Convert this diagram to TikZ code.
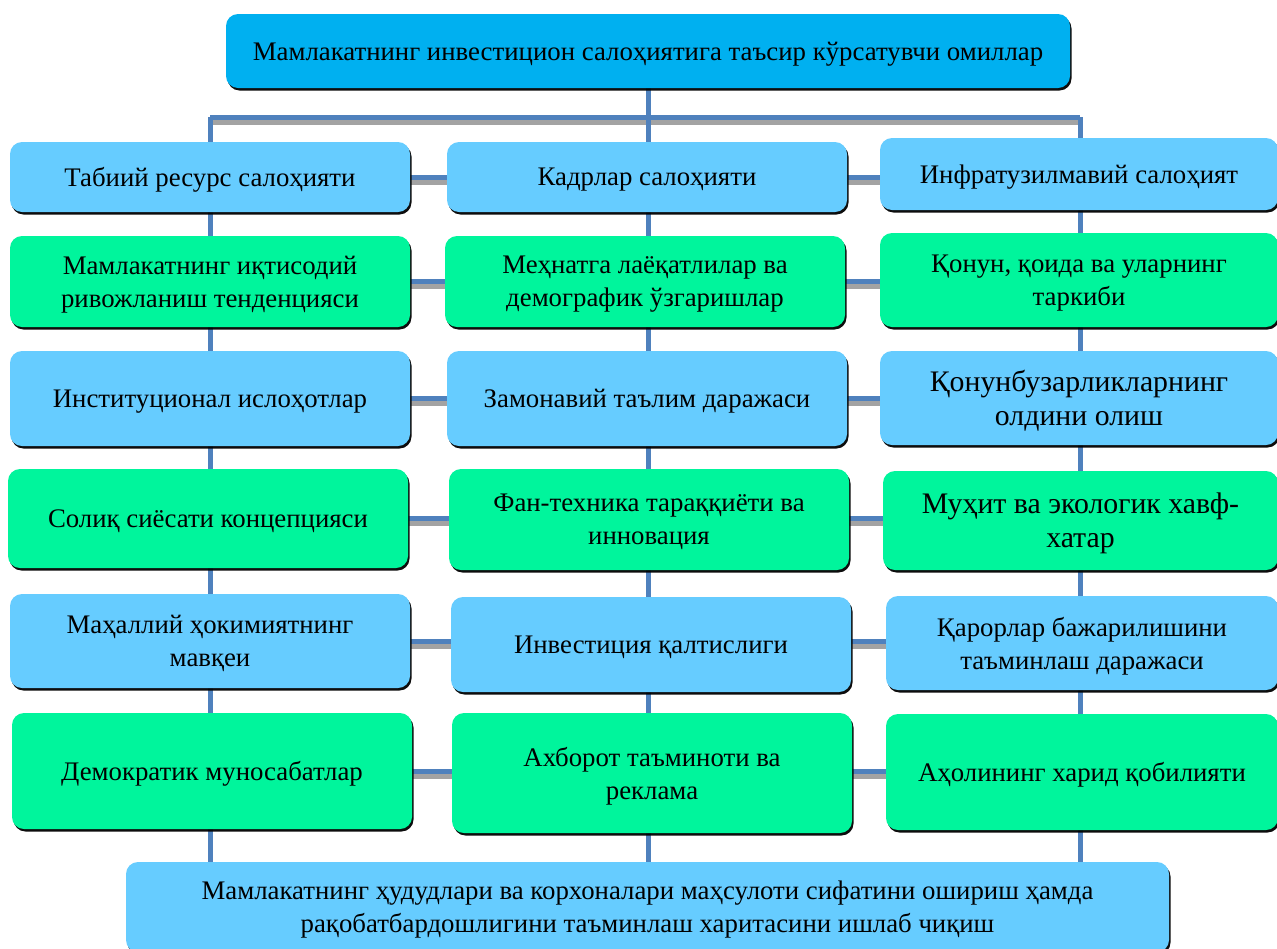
\documentclass[tikz,border=0pt]{standalone}
\usepackage{fontspec}
\setmainfont{Liberation Serif}
\usepackage{tikz}
\usetikzlibrary{backgrounds, shadows}

\definecolor{topblue}{HTML}{00B0F0}
\definecolor{lightblue}{HTML}{66CCFF}
\definecolor{mint}{HTML}{00F59C}
\definecolor{linkblue}{HTML}{4F81BD}

\begin{document}
\begin{tikzpicture}[x=1pt,y=-1pt]

		\tikzstyle{factor}=[rectangle,rounded corners=12pt,align=center,inner sep=0pt,
			font=\fontsize{26.8}{33}\selectfont,text depth=0pt,
			drop shadow={shadow xshift=1.5pt,shadow yshift=-2.5pt,fill=black,opacity=.95}]
		\tikzstyle{blue factor}=[factor,fill=lightblue]
		\tikzstyle{green factor}=[factor,fill=mint]
		\tikzstyle{big text}=[font=\fontsize{29.8}{34}\selectfont]
		\tikzstyle{link}=[draw=linkblue,line width=5pt]
		\tikzstyle{link shadow}=[draw=black!36,line width=5pt,transform canvas={yshift=-5pt}]

		\useasboundingbox (0,0) rectangle (1277,948);

		\node [factor, fill=topblue, minimum width=844pt, minimum height=74pt] (top) at (648,51)
			{Мамлакатнинг инвестицион салоҳиятига таъсир кўрсатувчи омиллар};

		% left column
		\node [blue factor, minimum width=400pt, minimum height=70pt] (L1) at (210,177)
			{Табиий ресурс салоҳияти};
		\node [green factor, minimum width=400pt, minimum height=91pt] (L2) at (210,281.5)
			{Мамлакатнинг иқтисодий\\ривожланиш тенденцияси};
		\node [blue factor, minimum width=400pt, minimum height=95pt] (L3) at (210,398.5)
			{Институционал ислоҳотлар};
		\node [green factor, minimum width=400pt, minimum height=99pt] (L4) at (208,518.5)
			{Солиқ сиёсати концепцияси};
		\node [blue factor, minimum width=400pt, minimum height=94pt] (L5) at (210,641)
			{Маҳаллий ҳокимиятнинг\\мавқеи};
		\node [green factor, minimum width=400pt, minimum height=116pt] (L6) at (212,771)
			{Демократик муносабатлар};

		% middle column
		\node [blue factor, minimum width=400pt, minimum height=70pt] (M1) at (647,177)
			{Кадрлар салоҳияти};
		\node [green factor, minimum width=400pt, minimum height=91pt] (M2) at (645,281.5)
			{Меҳнатга лаёқатлилар ва\\демографик ўзгаришлар};
		\node [blue factor, minimum width=400pt, minimum height=95pt] (M3) at (647,398.5)
			{Замонавий таълим даражаси};
		\node [green factor, minimum width=400pt, minimum height=101pt] (M4) at (649,519.5)
			{Фан-техника тараққиёти ва\\инновация};
		\node [blue factor, minimum width=400pt, minimum height=95pt] (M5) at (651,644.5)
			{Инвестиция қалтислиги};
		\node [green factor, minimum width=400pt, minimum height=120pt] (M6) at (652,773)
			{Ахборот таъминоти ва\\реклама};

		% right column
		\node [blue factor, minimum width=398pt, minimum height=72pt] (R1) at (1079,174)
			{Инфратузилмавий салоҳият};
		\node [green factor, minimum width=398pt, minimum height=94pt] (R2) at (1079,280)
			{Қонун, қоида ва уларнинг\\таркиби};
		\node [blue factor, big text, minimum width=398pt, minimum height=94pt] (R3) at (1079,398)
			{Қонунбузарликларнинг\\олдини олиш};
		\node [green factor, big text, minimum width=395pt, minimum height=99pt] (R4) at (1080.5,520.5)
			{Муҳит ва экологик хавф-\\хатар};
		\node [blue factor, minimum width=392pt, minimum height=94pt] (R5) at (1082,643)
			{Қарорлар бажарилишини\\таъминлаш даражаси};
		\node [green factor, minimum width=392pt, minimum height=116pt] (R6) at (1082,772)
			{Аҳолининг харид қобилияти};

		\node [blue factor, minimum width=1043pt, minimum height=90pt] (bottom) at (647.5,907)
			{Мамлакатнинг ҳудудлари ва корхоналари маҳсулоти сифатини ошириш ҳамда\\
			 рақобатбардошлигини таъминлаш харитасини ишлаб чиқиш};

		\begin{scope}[on background layer]
			\coordinate (barL) at (210,117);
			\coordinate (barR) at (1080,117);
			\draw [link shadow] (barL) -- (barR);
			\draw [link shadow] (L1) -- (L1 -| R1);
			\draw [link shadow] (L2) -- (L2 -| R2);
			\draw [link shadow] (L3) -- (L3 -| R3);
			\draw [link shadow] (L4) -- (L4 -| R4);
			\draw [link shadow] (L5) -- (L5 -| R5);
			\draw [link shadow] (L6) -- (L6 -| R6);
			\draw [link] (barL) -- (barR);
			\draw [link] (L1) -- (L1 -| R1);
			\draw [link] (L2) -- (L2 -| R2);
			\draw [link] (L3) -- (L3 -| R3);
			\draw [link] (L4) -- (L4 -| R4);
			\draw [link] (L5) -- (L5 -| R5);
			\draw [link] (L6) -- (L6 -| R6);
			\draw [link] (top.south) -- (top.south |- bottom.north);
			\draw [link] (barL) -- (barL |- bottom.north);
			\draw [link] (barR) -- (barR |- bottom.north);
		\end{scope}
	\end{tikzpicture}
\end{document}
